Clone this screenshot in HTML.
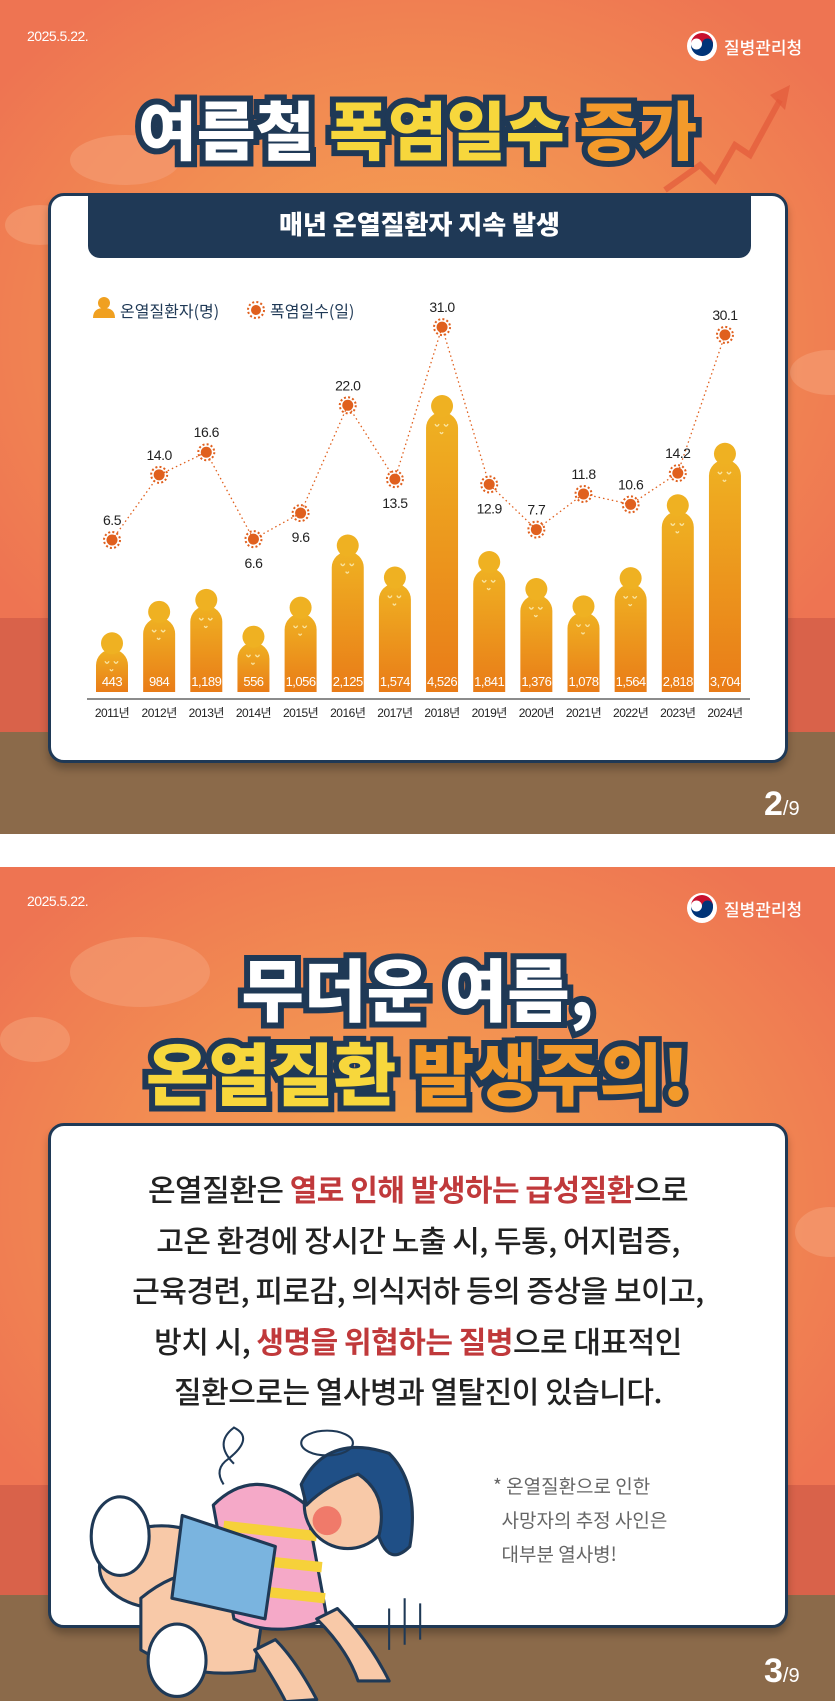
<!DOCTYPE html>
<html><head><meta charset="utf-8">
<style>
*{margin:0;padding:0;box-sizing:border-box}
body{width:835px;height:1701px;position:relative;overflow:hidden;background:#fff;font-family:"Liberation Sans","Noto Sans CJK KR",sans-serif}
.panel{position:absolute;left:0;width:835px;overflow:hidden;background:radial-gradient(ellipse 520px 420px at 50% 40%,#f5a650 0%,#f28c52 55%,#ee7452 100%)}
.bld{position:absolute;left:0;width:835px;background:#d9624a}
.ground{position:absolute;left:0;width:835px;background:#8b6a4a}
.date{position:absolute;left:27px;color:#fff;font-size:14px;letter-spacing:-0.5px}
.logo{position:absolute;left:686px;display:flex;align-items:center;color:#fff;font-size:17px;font-family:"Noto Sans CJK KR",sans-serif;font-weight:500}
.title{position:absolute;left:0;width:835px;text-align:center;font-family:"Noto Sans CJK KR",sans-serif;font-weight:900;-webkit-text-stroke:12px #1f3956;paint-order:stroke fill;letter-spacing:0px}
.card{position:absolute;left:48px;width:740px;background:#fff;border:3px solid #1f3956;border-radius:16px;box-shadow:0 6px 8px rgba(0,0,0,.25)}
.page{position:absolute;left:764px;color:#fff;font-size:34px;font-weight:bold}
.page span{font-size:20px;font-weight:normal}
.cloud{position:absolute;background:#f49a70;border-radius:50%;opacity:.7}
.body{position:absolute;left:48px;width:740px;text-align:center;font-family:"Noto Sans CJK KR",sans-serif;font-size:30px;font-weight:500;color:#222;letter-spacing:-0.5px}
.red{color:#c0393b;font-weight:700}
</style></head><body>

<!-- PANEL 1 -->
<div class="panel" style="top:0;height:834px">
  <div class="cloud" style="left:70px;top:135px;width:110px;height:50px"></div>
  <div class="cloud" style="left:5px;top:205px;width:70px;height:40px"></div>
  <div class="cloud" style="left:790px;top:350px;width:80px;height:45px"></div>
  <svg style="position:absolute;left:660px;top:85px" width="130" height="110"><polyline points="5,105 40,80 55,95 75,60 90,70 120,15" fill="none" stroke="#e25a3a" stroke-width="6" opacity=".7"/><polygon points="110,10 130,0 125,25" fill="#e25a3a" opacity=".7"/></svg>
  <div class="bld" style="top:618px;height:115px"></div>
  <div class="ground" style="top:732px;height:102px"></div>
  <div class="date" style="top:28px">2025.5.22.</div>
  <div class="logo" style="top:30px"><svg width="32" height="32" style="margin-right:6px"><circle cx="16" cy="16" r="15" fill="#fff"/><path d="M5 14a11 11 0 0 1 22 0a5.5 5.5 0 0 1-11 0a5.5 5.5 0 0 0-11 0z" fill="#c8102e"/><path d="M5 14a5.5 5.5 0 0 0 11 0a5.5 5.5 0 0 1 11 0a11 11 0 0 1-22 2z" fill="#003478"/></svg>질병관리청</div>
  <div class="title" style="top:82px;font-size:64px"><span style="color:#fff">여름철 </span><span style="color:#f7d73c">폭염일수 </span><span style="color:#f39a2b">증가</span></div>
  <div class="card" style="top:193px;height:570px">
    <div style="position:absolute;left:37px;top:-3px;width:663px;height:65px;background:#1f3956;border-radius:0 0 12px 12px;color:#fff;font-family:'Noto Sans CJK KR',sans-serif;font-weight:900;font-size:26px;text-align:center;line-height:62px">매년 온열질환자 지속 발생</div>
  </div>
  <svg id="chart" style="position:absolute;left:0;top:0" width="835" height="834"></svg>
  <div class="page" style="top:785px">2<span>/9</span></div>
</div>

<!-- PANEL 2 -->
<div class="panel" style="top:867px;height:834px">
  <div class="cloud" style="left:70px;top:70px;width:140px;height:70px"></div>
  <div class="cloud" style="left:0px;top:150px;width:70px;height:45px"></div>
  <div class="cloud" style="left:795px;top:340px;width:70px;height:50px"></div>
  <div class="bld" style="top:618px;height:112px"></div>
  <div class="ground" style="top:728px;height:106px"></div>
  <div class="date" style="top:26px">2025.5.22.</div>
  <div class="logo" style="top:25px"><svg width="32" height="32" style="margin-right:6px"><circle cx="16" cy="16" r="15" fill="#fff"/><path d="M5 14a11 11 0 0 1 22 0a5.5 5.5 0 0 1-11 0a5.5 5.5 0 0 0-11 0z" fill="#c8102e"/><path d="M5 14a5.5 5.5 0 0 0 11 0a5.5 5.5 0 0 1 11 0a11 11 0 0 1-22 2z" fill="#003478"/></svg>질병관리청</div>
  <div class="title" style="top:78px;font-size:68px;line-height:84px"><span style="color:#fff">무더운 여름,</span><br><span style="color:#f7d73c">온열질환 </span><span style="color:#f39a2b">발생주의!</span></div>
  <div class="card" style="top:256px;height:505px"></div>
  <div class="body" style="top:296px;line-height:50.5px">온열질환은 <span class="red">열로 인해 발생하는 급성질환</span>으로<br>고온 환경에 장시간 노출 시, 두통, 어지럼증,<br>근육경련, 피로감, 의식저하 등의 증상을 보이고,<br>방치 시, <span class="red">생명을 위협하는 질병</span>으로 대표적인<br>질환으로는 열사병과 열탈진이 있습니다.</div>
  <div style="position:absolute;left:493px;top:602px;color:#666;font-family:'Noto Sans CJK KR',sans-serif;font-size:19px;line-height:34px;white-space:pre">* 온열질환으로 인한
  사망자의 추정 사인은
  대부분 열사병!</div>
  <svg style="position:absolute;left:75px;top:545px" width="380" height="300" viewBox="0 -110 360 290">
    <g stroke="#1f3956" stroke-width="3" stroke-linejoin="round">
      <ellipse cx="80" cy="40" rx="60" ry="40" fill="#f8c9a8"/>
      <path d="M60 70 Q120 20 180 70 L170 140 Q110 150 60 120z" fill="#f8c9a8"/>
      <path d="M130 -20 Q170 -60 220 -20 L240 90 Q190 110 150 90z" fill="#f5a9c8"/>
      <path d="M140 0 L230 10 M140 30 L235 40 M145 60 L238 70" stroke="#f6d13a" stroke-width="10"/>
      <path d="M100 -10 L190 20 L180 90 L90 70z" fill="#7ab4df"/>
      <ellipse cx="40" cy="10" rx="28" ry="38" fill="#fff"/>
      <ellipse cx="95" cy="130" rx="28" ry="35" fill="#fff"/>
      <path d="M230 90 Q260 120 270 150 L300 150 Q280 110 250 80z" fill="#f8c9a8"/>
      <path d="M170 120 Q190 150 200 170 L230 168 Q210 130 190 110z" fill="#f8c9a8"/>
      <circle cx="260" cy="-20" r="42" fill="#f8c9a8"/>
      <path d="M215 -40 Q240 -90 300 -70 Q330 -40 320 20 Q300 40 290 10 Q300 -30 270 -50 Q240 -40 220 -20z" fill="#1f4f86"/>
      <circle cx="240" cy="-5" r="14" fill="#f07a6a" stroke="none"/>
    </g>
    <g fill="none" stroke="#1f3956" stroke-width="2"><path d="M300 80 V120 M315 70 V115 M330 75 V110"/><ellipse cx="240" cy="-80" rx="25" ry="12"/><path d="M150 -60 q-20 -20 0 -35 q20 10 -5 30 q-15 10 -5 25"/></g>
  </svg>
  <div class="page" style="top:785px">3<span>/9</span></div>
</div>

<script>
const years = ["2011","2012","2013","2014","2015","2016","2017","2018","2019","2020","2021","2022","2023","2024"];
const patients = [443,984,1189,556,1056,2125,1574,4526,1841,1376,1078,1564,2818,3704];
const patientLabels = ["443","984","1,189","556","1,056","2,125","1,574","4,526","1,841","1,376","1,078","1,564","2,818","3,704"];
const heatDays = [6.5,14.0,16.6,6.6,9.6,22.0,13.5,31.0,12.9,7.7,11.8,10.6,14.2,30.1];
const heatLabels = ["6.5","14.0","16.6","6.6","9.6","22.0","13.5","31.0","12.9","7.7","11.8","10.6","14.2","30.1"];
const labelBelow = [false,false,false,true,true,false,true,false,true,false,false,false,false,false];

const NS="http://www.w3.org/2000/svg";
const svg=document.getElementById('chart');
function mk(t,a,p){const e=document.createElementNS(NS,t);for(const k in a)e.setAttribute(k,a[k]);(p||svg).appendChild(e);return e;}
const baseY=692;
const xAt=i=>112+i*47.15;
const barTop=v=>baseY-(34+v*0.0581);
const yDay=v=>540-(v-6.5)*8.69;

const defs=mk('defs',{});
const g=mk('linearGradient',{id:'bg',x1:0,y1:0,x2:0,y2:1},defs);
mk('stop',{offset:'0','stop-color':'#efb122'},g);mk('stop',{offset:'1','stop-color':'#e97c18'},g);

const lg=mk('g',{});


mk('circle',{cx:104,cy:303,r:6,fill:'#f0a020'},lg);
mk('path',{d:'M93 318 Q93 308 104 308 Q115 308 115 318z',fill:'#f0a020'},lg);
const l1=mk('text',{x:120,y:317,'font-size':16,fill:'#1f3956','font-family':'Noto Sans CJK KR, sans-serif'},lg);l1.textContent='온열질환자(명)';
mk('circle',{cx:256,cy:310,r:5,fill:'#e0601e'},lg);
mk('circle',{cx:256,cy:310,r:8,fill:'none',stroke:'#e0601e','stroke-width':2,'stroke-dasharray':'2 2.2'},lg);
const l2=mk('text',{x:270,y:317,'font-size':16,fill:'#1f3956','font-family':'Noto Sans CJK KR, sans-serif'},lg);l2.textContent='폭염일수(일)';

const ax=mk('line',{x1:87,x2:750,y1:699,y2:699,stroke:'#666','stroke-width':1.5});



patients.forEach((v,i)=>{
  const cx=xAt(i),top=barTop(v),w=32;
  const bt=top+17;
  const b=mk('g',{});
  
  
  mk('path',{d:`M${cx-w/2} ${baseY} V${bt+16} A16 16 0 0 1 ${cx+w/2} ${bt+16} V${baseY}z`,fill:'url(#bg)'},b);
  mk('circle',{cx:cx,cy:top+11,r:11,fill:'#efb122'},b);
  mk('path',{d:`M${cx-7} ${bt+12} q2 4 4 0 M${cx+2} ${bt+12} q2 4 4 0 M${cx-2} ${bt+20} q1.5 3 3 0`,fill:'none',stroke:'#f9e4a0','stroke-width':1.3},b);
  const t=mk('text',{x:cx,y:686,'text-anchor':'middle','font-size':13,fill:'#fff','letter-spacing':'-0.5'},b);t.textContent=patientLabels[i];
  const yl=mk('text',{x:cx,y:717,'text-anchor':'middle','font-size':12,fill:'#222','letter-spacing':'-0.5'});
  
  
  yl.textContent=years[i]+'년';
});

const pts=heatDays.map((v,i)=>xAt(i)+','+yDay(v)).join(' ');
const ln=mk('polyline',{points:pts,fill:'none',stroke:'#e0601e','stroke-width':1.3,'stroke-dasharray':'1.5 3'});


heatDays.forEach((v,i)=>{
  const cx=xAt(i),cy=yDay(v);
  const p=mk('g',{});
  
  
  mk('circle',{cx:cx,cy:cy,r:8,fill:'none',stroke:'#e0601e','stroke-width':2,'stroke-dasharray':'2 2.2'},p);
  mk('circle',{cx:cx,cy:cy,r:5.5,fill:'#e0601e'},p);
  const t=mk('text',{x:cx,y:labelBelow[i]?cy+29:cy-15,'text-anchor':'middle','font-size':14,fill:'#222','letter-spacing':'-0.5'},p);
  t.textContent=heatLabels[i];
});
</script>
</body></html>
